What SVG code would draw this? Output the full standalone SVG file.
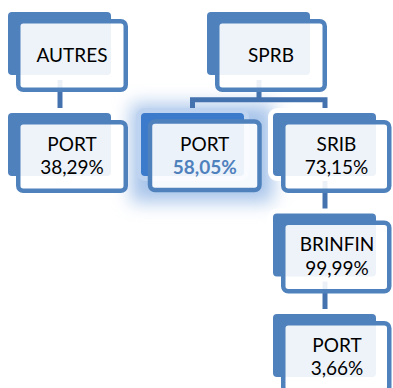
<svg xmlns="http://www.w3.org/2000/svg" width="393" height="388" viewBox="0 0 393 388">
<style>
.back{fill:#4F81BD;stroke:#fff;stroke-width:10;paint-order:stroke}
.front{fill:#fff;fill-opacity:.9;stroke:#4F81BD;stroke-width:4.5}
.t{font-family:Lato,"Liberation Sans",sans-serif;font-size:19px;fill:#000;text-anchor:middle}
.conn{fill:none;stroke:#4472AE;stroke-width:5}
</style>
<defs>
<filter id="glow" x="-50%" y="-50%" width="200%" height="200%"><feGaussianBlur stdDeviation="9"/></filter>
</defs>
<rect id="glow-bg" x="131" y="104" width="142" height="98" fill="#A7C4EA" filter="url(#glow)"/>
<g id="connectors">
<path class="conn" d="M60 75V113"/>
<path class="conn" d="M259 75V99.8H192.5V113M259 99.8H325V113"/>
<path class="conn" d="M325 176V213.5"/>
<path class="conn" d="M325 276V314"/>
</g>
<g id="n-autres">
<rect class="back" x="8" y="12" width="103" height="63" rx="4"/>
<rect class="front" x="18.25" y="21.25" width="107.5" height="68.5" rx="5"/>
<text class="t" x="72" y="62">AUTRES</text>
</g>
<g id="n-sprb">
<rect class="back" x="207" y="12" width="103" height="63" rx="4"/>
<rect class="front" x="217.25" y="21.25" width="107.5" height="68.5" rx="5"/>
<text class="t" x="271" y="62">SPRB</text>
</g>
<g id="n-port1">
<rect class="back" x="8" y="113" width="103" height="63" rx="4"/>
<rect class="front" x="18.25" y="122.25" width="107.5" height="68.5" rx="5"/>
<text class="t" x="72" y="150.7">PORT</text>
<text class="t" x="72" y="174">38,29%</text>
</g>
<g id="n-port2">
<rect class="back" x="141" y="113" width="103" height="63" rx="4" style="fill:#3C7ACB;stroke:#BDD3EF"/>
<rect class="front" x="150" y="121.5" width="109.5" height="68.5" rx="5"/>
<text class="t" x="204.7" y="150.7">PORT</text>
<text class="t" x="204.7" y="173.5" style="font-weight:bold;fill:#4F81BD">58,05%</text>
</g>
<g id="n-srib">
<rect class="back" x="273" y="113" width="103" height="63" rx="4"/>
<rect class="front" x="283.25" y="122.25" width="106" height="68.5" rx="5"/>
<text class="t" x="336.5" y="150.7">SRIB</text>
<text class="t" x="336.5" y="173.7">73,15%</text>
</g>
<g id="n-brinfin">
<rect class="back" x="273" y="213.5" width="103" height="63" rx="4"/>
<rect class="front" x="283.25" y="222.75" width="106" height="68.5" rx="5"/>
<text class="t" x="337" y="251.3">BRINFIN</text>
<text class="t" x="337" y="274.8">99,99%</text>
</g>
<g id="n-port3">
<rect class="back" x="273" y="314" width="103" height="63" rx="4"/>
<rect class="front" x="283.25" y="323.25" width="106" height="68.5" rx="5"/>
<text class="t" x="337" y="352">PORT</text>
<text class="t" x="337" y="375">3,66%</text>
</g>
</svg>
